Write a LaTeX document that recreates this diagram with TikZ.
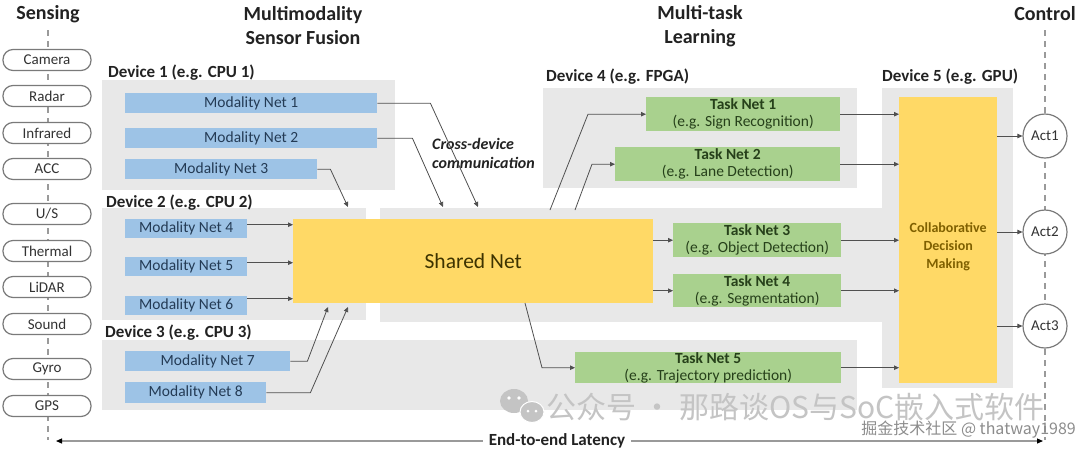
\documentclass[tikz,border=0pt]{standalone}
\usepackage{fontspec}
\setmainfont{Carlito}
\newfontfamily\cjkfont{Noto Sans CJK SC}
\usetikzlibrary{arrows.meta,calc}
\definecolor{devgray}{HTML}{E8E8E8}
\definecolor{modblue}{HTML}{9DC3E6}
\definecolor{modtext}{HTML}{243B55}
\definecolor{taskgreen}{HTML}{A9D18E}
\definecolor{tasktext}{HTML}{26401A}
\definecolor{shyellow}{HTML}{FFD966}
\definecolor{shtext}{HTML}{3D3300}
\definecolor{cdtext}{HTML}{7F6000}
\definecolor{linec}{HTML}{505050}
\definecolor{pillc}{HTML}{7A7A7A}
\definecolor{dashc}{HTML}{9A9A9A}
\definecolor{wmc}{HTML}{C4C4C4}
\definecolor{headc}{HTML}{222222}
\newcommand{\fs}[1]{\fontsize{#1}{#1}\selectfont}
\newcommand{\fsl}[2]{\fontsize{#1}{#2}\selectfont}
\begin{document}
\begin{tikzpicture}[x=1pt,y=-1pt,
  devbg/.style={fill=devgray},
  devlabel/.style={anchor=west,inner sep=0,font=\bfseries\fs{17},text=headc},
  header/.style={inner sep=0,font=\bfseries\fs{20},text=headc,align=center},
  pill/.style={draw=pillc,line width=1.2pt,fill=white,rounded corners=10pt,minimum width=88,minimum height=21,inner sep=0,font=\fs{15},text=black!80},
  mod/.style={fill=modblue,text=modtext,inner sep=0,anchor=north west,font=\fs{15.5}},
  task/.style={fill=taskgreen,text=tasktext,inner sep=0,anchor=north west,align=center,font=\fsl{15.5}{17}},
  shared/.style={fill=shyellow,text=shtext,inner sep=0,anchor=north west,font=\fs{21.5}},
  collab/.style={fill=shyellow,inner sep=0,anchor=north west},
  collabtext/.style={text=cdtext,inner sep=0,align=center,font=\bfseries\fsl{14}{18}},
  act/.style={circle,draw=pillc,line width=1.2pt,fill=white,minimum size=44,inner sep=0,font=\fs{15},text=black!80},
  arr/.style={draw=linec,line width=0.8pt,-{Triangle[length=5pt,width=4.5pt]}},
  dashline/.style={draw=dashc,line width=1.2pt,dash pattern=on 6pt off 5pt},
  wm/.style={fill=wmc}
]
\useasboundingbox (0,0) rectangle (1080,451);

% ---- device backgrounds ----
\fill[devbg] (102,80) rectangle (395,190);
\fill[devbg] (102,208) rectangle (366,320);
\fill[devbg] (380,208) rectangle (882,322);
\fill[devbg] (543,88) rectangle (857,188);
\fill[devbg] (882,88) rectangle (1013,388);
\fill[devbg] (102,340) rectangle (857,410);

% ---- headers ----
\node[header] (hsens) at (48,14) {Sensing};
\node[header] (hfus) at (303,26) {Multimodality\\[4pt]Sensor Fusion};
\node[header] (hmtl) at (700,26) {Multi-task\\[4pt]Learning};
\node[header] (hctl) at (1045,14) {Control};

% ---- dashed lines ----
\coordinate (stop) at (48,30);
\coordinate (sbot) at (48,440);
\coordinate (ctop) at (1045,30);
\coordinate (cbot) at (1045,440);
\draw[dashline] (stop) -- (sbot);
\draw[dashline] (ctop) -- (cbot);

% ---- sensors ----
\node[pill] (p1) at (47,60) {Camera};
\node[pill] (p2) at (47,96) {Radar};
\node[pill] (p3) at (47,133) {Infrared};
\node[pill] (p4) at (47,169) {ACC};
\node[pill] (p5) at (47,214) {U/S};
\node[pill] (p6) at (47,251) {Thermal};
\node[pill] (p7) at (47,287) {LiDAR};
\node[pill] (p8) at (47,324) {Sound};
\node[pill] (p9) at (47,369) {Gyro};
\node[pill] (p10) at (47,406) {GPS};

% ---- device labels ----
\node[devlabel] (d1) at (108,73) {Device 1 (e.g. CPU 1)};
\node[devlabel] (d2) at (106,203) {Device 2 (e.g. CPU 2)};
\node[devlabel] (d3) at (105,333) {Device 3 (e.g. CPU 3)};
\node[devlabel] (d4) at (546,77) {Device 4 (e.g. FPGA)};
\node[devlabel] (d5) at (882,77) {Device 5 (e.g. GPU)};

% ---- modality nets ----
\node[mod,minimum width=252,minimum height=20] (m1) at (125,93) {Modality Net 1};
\node[mod,minimum width=252,minimum height=20] (m2) at (125,128) {Modality Net 2};
\node[mod,minimum width=192,minimum height=20] (m3) at (125,159) {Modality Net 3};
\node[mod,minimum width=122,minimum height=19] (m4) at (125,219) {Modality Net 4};
\node[mod,minimum width=122,minimum height=19] (m5) at (125,257) {Modality Net 5};
\node[mod,minimum width=122,minimum height=19] (m6) at (125,296) {Modality Net 6};
\node[mod,minimum width=165,minimum height=20] (m7) at (125,351) {Modality Net 7};
\node[mod,minimum width=141,minimum height=21] (m8) at (125,382) {Modality Net 8};

% ---- shared net ----
\node[shared,minimum width=360,minimum height=84] (sh) at (293,219) {Shared Net};

% ---- task nets ----
\node[task,minimum width=194,minimum height=34] (t1) at (646,97) {\textbf{Task Net 1}\\(e.g. Sign Recognition)};
\node[task,minimum width=225,minimum height=34] (t2) at (615,147) {\textbf{Task Net 2}\\(e.g. Lane Detection)};
\node[task,minimum width=168,minimum height=34] (t3) at (673,223) {\textbf{Task Net 3}\\(e.g. Object Detection)};
\node[task,minimum width=168,minimum height=33] (t4) at (673,274) {\textbf{Task Net 4}\\(e.g. Segmentation)};
\node[task,minimum width=266,minimum height=31] (t5) at (575,352) {\textbf{Task Net 5}\\(e.g. Trajectory prediction)};

% ---- collaborative decision making ----
\node[collab,minimum width=98,minimum height=286] (cd) at (899,97) {};
\node[collabtext] (cdl) at ($(cd.center)+(0,7)$) {Collaborative\\Decision\\Making};

% ---- actuators ----
\node[act] (a1) at (1045,136) {Act1};
\node[act] (a2) at (1045,232) {Act2};
\node[act] (a3) at (1045,326) {Act3};

% ---- cross-device label ----
\node[anchor=west,inner sep=0,align=left,font=\bfseries\itshape\fs{16},text=headc] (cross) at (432,153) {Cross-device\\[3pt]communication};

% ---- arrows into shared net ----
\coordinate (c1) at (478,207);
\coordinate (c2) at (443,207);
\coordinate (c3) at (348,207);
\coordinate (c7) at (328,307);
\coordinate (c8) at (348,307);
\draw[arr] (m1.east) -- ++(53,0) -- (c1);
\draw[arr] (m2.east) -- ++(35,0) -- (c2);
\draw[arr] (m3.east) -- ++(13,0) -- (c3);
\draw[arr] ([yshift=4pt]m4.east) -- ([yshift=4pt]m4.east -| sh.west);
\draw[arr] ([yshift=4pt]m5.east) -- ([yshift=4pt]m5.east -| sh.west);
\draw[arr] ([yshift=7pt]m6.east) -- ([yshift=7pt]m6.east -| sh.west);
\draw[arr] (m7.east) -- ++(17,0) -- (c7);
\draw[arr] (m8.east) -- ++(44,0) -- (c8);

% ---- arrows out of shared net ----
\coordinate (s1) at (550,210);
\coordinate (s2) at (575,210);
\coordinate (s5) at (525,303);
\draw[arr] (s1) -- ($(t1.west)+(-58,0)$) -- (t1.west);
\draw[arr] (s2) -- ($(t2.west)+(-23,0)$) -- (t2.west);
\draw[arr] (sh.east |- t3.west) -- (t3.west);
\draw[arr] (sh.east |- t4.west) -- (t4.west);
\draw[arr] (s5) -- ($(t5.west)+(-33,0)$) -- (t5.west);

% ---- task nets to decision ----
\foreach \t in {t1,t2,t3,t4,t5}{
  \draw[arr] (\t.east) -- (\t.east -| cd.west);
}

% ---- decision to actuators ----
\foreach \a in {a1,a2,a3}{
  \draw[arr] (cd.east |- \a.west) -- (\a.west);
}

% ---- watermark ----
\fill[wm] (514,401) ellipse (14 and 12);
\fill[wm,draw=white,line width=1pt] (532,412) ellipse (12 and 10.5);
\fill[white] (509,398) circle (1.8) (519,398) circle (1.8) (528,411) circle (1.5) (536,411) circle (1.5);
\node[anchor=west,inner sep=0,font=\cjkfont\fs{30},text=wmc] (wm1) at (546,407) {公众号 · 那路谈OS与SoC嵌入式软件};

% ---- latency ----
\coordinate (lL) at (56,441);
\coordinate (lR) at (1043,441);
\draw[draw=dashc,line width=1.2pt,{Triangle[length=6pt,width=5pt,color=black]}-{Triangle[length=6pt,width=5pt,color=black]}] (lL) -- (lR);
\node[fill=white,inner xsep=6pt,inner ysep=1pt,font=\bfseries\fs{17},text=headc] (lat) at (557,441) {End-to-end Latency};

\node[anchor=east,inner sep=0,font=\cjkfont\fs{16},text=black!45] (wm2) at (1076,430) {掘金技术社区 @ thatway1989};
\end{tikzpicture}
\end{document}
